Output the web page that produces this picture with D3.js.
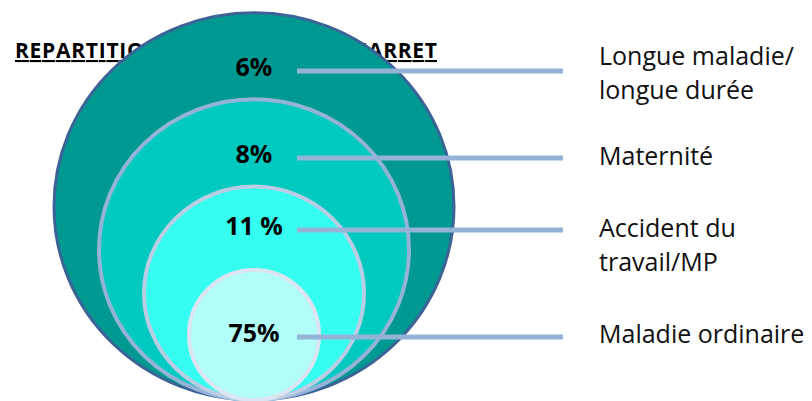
<!DOCTYPE html>
<html>
  <head>
    <meta charset="utf-8" />
    <title>Repartition par nature d'arret</title>
    <script src="https://d3js.org/d3.v7.min.js"></script>
    <style type="text/css">
      body { margin: 0; background: white; }
      text { font-family: "Open Sans", sans-serif; }
    </style>
  </head>
  <body>
    <div id="chart"></div>
    <script type="text/javascript">
      // data, outermost ring first
      var categories = ["Longue maladie/\nlongue durée", "Maternité", "Accident du\ntravail/MP", "Maladie ordinaire"];
      var values = [6, 8, 11, 75];
      var valueLabels = ["6%", "8%", "11 %", "75%"];
      var title = "REPARTITION PAR NATURE DE L'ARRET";

      var fills = ["#009992", "#00C9C0", "#35FEF0", "#B2FEF9"];
      var strokes = ["#3B6396", "#95B3D7", "#B9CDE5", "#DBE5F1"];

      var width = 812, height = 401;
      var cx = 254, bottom = 400;

      var svg = d3.select("#chart").append("svg")
          .attr("width", width)
          .attr("height", height);

      // title (mostly covered by the rings, as in the slide)
      svg.append("text")
          .attr("x", 15)
          .attr("y", 58)
          .attr("textLength", 422)
          .attr("lengthAdjust", "spacing")
          .style("font-size", "21px")
          .style("font-weight", "bold")
          .style("text-decoration", "underline")
          .text(title);

      var idx = d3.range(categories.length);
      var rx = d3.scaleLinear().domain([0, categories.length - 1]).range([200, 65]);
      var ry = function(i) { return rx(i) * (i == 0 ? 0.968 : i == 3 ? 1 : 0.97); };
      var lineY = d3.scaleOrdinal().domain(categories).range([71, 158, 230, 337]);
      var textY = d3.scaleOrdinal().domain(categories).range([65, 165, 237, 343]);

      svg.selectAll("ellipse.ring")
          .data(idx)
          .enter()
          .append("ellipse")
          .attr("class", "ring")
          .attr("cx", cx)
          .attr("cy", function(i) { return bottom - ry(i); })
          .attr("rx", function(i) { return rx(i); })
          .attr("ry", function(i) { return ry(i); })
          .style("fill", function(i) { return fills[i]; })
          .style("stroke", function(i) { return strokes[i]; })
          .style("stroke-width", function(i) { return i == 0 ? 3 : 4; });

      // leader lines
      svg.selectAll("line.leader")
          .data(categories)
          .enter()
          .append("line")
          .attr("x1", 297)
          .attr("x2", 563)
          .attr("y1", function(d) { return lineY(d); })
          .attr("y2", function(d) { return lineY(d); })
          .style("stroke", "#95B3D7")
          .style("stroke-width", 5);

      // percentages
      svg.selectAll("text.pct")
          .data(categories)
          .enter()
          .append("text")
          .attr("x", cx)
          .attr("y", function(d) { return lineY(d) + 5; })
          .attr("text-anchor", "middle")
          .style("font-size", "25px")
          .style("font-weight", "bold")
          .text(function(d, i) { return valueLabels[i]; });

      // category labels
      var lab = svg.selectAll("text.cat")
          .data(categories)
          .enter()
          .append("text")
          .attr("x", 599)
          .attr("y", function(d) { return textY(d); })
          .style("font-size", "25px")
          .style("fill", "#111");
      lab.selectAll("tspan")
          .data(function(d) { return d.split("\n"); })
          .enter()
          .append("tspan")
          .attr("x", 599)
          .attr("dy", function(d, j) { return j == 0 ? 0 : 34; })
          .text(function(d) { return d; });
    </script>
  </body>
</html>
